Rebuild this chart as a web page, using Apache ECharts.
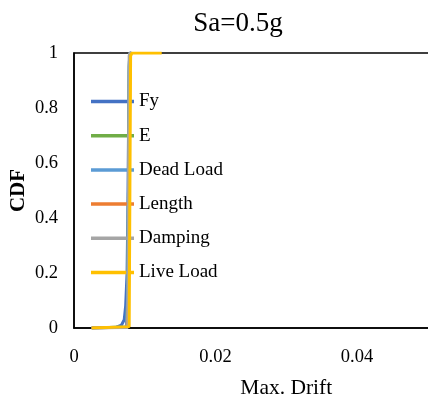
<!DOCTYPE html>
<html><head><meta charset="utf-8">
<script src="https://cdn.jsdelivr.net/npm/echarts@6/dist/echarts.min.js"></script>
<style>html,body{margin:0;padding:0;background:#fff}#c{width:428px;height:410px}</style>
</head><body><div id="c"></div>
<script>
var seriesNames = ['Fy', 'E', 'Dead Load', 'Length', 'Damping', 'Live Load'];
var colors = ['#4472C4', '#70AD47', '#5B9BD5', '#ED7D31', '#A5A5A5', '#FFC000'];
var fyData = [[0.0025,0],[0.006,0.003],[0.0067,0.01],[0.0071,0.03],[0.0073,0.08],[0.0075,0.2],[0.0076,0.4],[0.0077,0.7],[0.0078,0.93],[0.0079,1.0],[0.0081,1]];
var eData = [[0.0025,0],[0.0074,0.004],[0.0076,0.1],[0.0077,0.5],[0.0078,0.95],[0.0079,1],[0.0081,1]];
var deadData = [[0.0025,0],[0.0074,0.004],[0.0076,0.12],[0.0077,0.5],[0.0078,0.96],[0.0079,1],[0.0081,1]];
var lengthData = [[0.0025,0],[0.0075,0.003],[0.0077,0.1],[0.0078,0.6],[0.0079,0.97],[0.008,1],[0.0081,1]];
var dampingData = [[0.0025,0],[0.0076,0.002],[0.0077,0.5],[0.0078,0.99],[0.0079,1],[0.0081,1]];
var liveData = [[0.0025,0],[0.0078,0.005],[0.0079,0.5],[0.008,0.99],[0.0082,1],[0.0124,1]];
var allData = [fyData, eData, deadData, lengthData, dampingData, liveData];
var xTicks = [0, 0.02, 0.04];
var font = 'Liberation Serif, Times New Roman, serif';

var chart = echarts.init(document.getElementById('c'));
chart.setOption({
  animation: false,
  title: { text: 'Sa=0.5g', left: 233, top: 5, textAlign: 'center',
    textStyle: { fontFamily: font, fontSize: 27, fontWeight: 'normal', color: '#000' } },
  legend: {
    orient: 'vertical', left: 91, top: 92, itemGap: 15.2, padding: 0,
    icon: 'rect', itemWidth: 43, itemHeight: 3.5,
    textStyle: { fontFamily: font, fontSize: 19, color: '#000' },
    data: seriesNames
  },
  grid: { left: 74, top: 53, height: 275, width: 424.5, outerBoundsMode: 'none',
    show: true, borderColor: '#000', borderWidth: 1.5, containLabel: false },
  xAxis: {
    type: 'value', min: 0, max: 0.06, interval: 0.02,
    name: 'Max. Drift', nameLocation: 'middle', nameGap: 49, nameMoveOverlap: false,
    nameTextStyle: { fontFamily: font, fontSize: 21.5, color: '#000', align: 'center' },
    axisLine: { show: true, onZero: false, lineStyle: { color: '#000', width: 1.5 } },
    axisTick: { show: false }, splitLine: { show: false },
    axisLabel: { fontFamily: font, fontSize: 18.5, color: '#000', margin: 20,
      formatter: function(v){ return xTicks.indexOf(Math.round(v*100)/100) >= 0 ? String(v) : ''; } }
  },
  yAxis: {
    type: 'value', min: 0, max: 1, interval: 0.2,
    name: 'CDF', nameLocation: 'middle', nameGap: 45, nameRotate: 90, nameMoveOverlap: false,
    nameTextStyle: { fontFamily: font, fontSize: 21, fontWeight: 'bold', color: '#000' },
    axisLine: { show: true, lineStyle: { color: '#000', width: 1.5 } },
    axisTick: { show: false }, splitLine: { show: false },
    axisLabel: { fontFamily: font, fontSize: 18.5, color: '#000', margin: 16 }
  },
  series: seriesNames.map(function(n, i){
    return { name: n, type: 'line', data: allData[i], showSymbol: false, symbol: 'none',
      color: colors[i], lineStyle: { width: 3, color: colors[i] }, z: 2 + i };
  })
});
</script></body></html>
